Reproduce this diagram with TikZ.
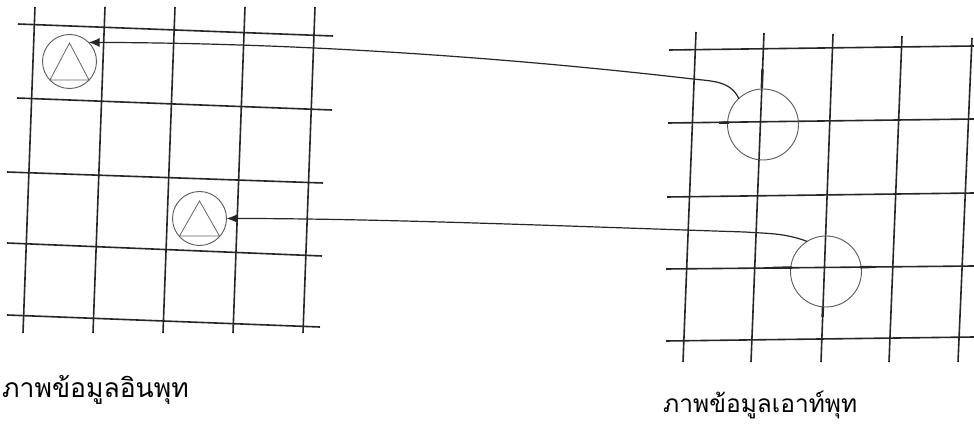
\documentclass[tikz,border=0pt]{standalone}
\usepackage{fontspec}
\newfontfamily\thaifont[Script=Thai]{Loma}
\usetikzlibrary{arrows.meta}
\begin{document}
\begin{tikzpicture}[x=1pt,y=1pt,
  gridline/.style={line width=1.6pt, draw=black!85},
  ring/.style={circle, draw=black!65, line width=0.9pt, inner sep=0pt, outer sep=0pt},
  tri/.style={draw=black!60, line width=0.8pt},
  conn/.style={line width=1.2pt, draw=black!85},
  tipped/.style={conn, -{Latex[length=11pt,width=9pt]}},
  tickmark/.style={line width=2.4pt, draw=black!85},
  thaitext/.style={font=\thaifont, inner sep=0pt, anchor=base west}]
\fill[white] (0,0) rectangle (974,426);
\useasboundingbox (0,0) rectangle (974,426);
% left grid
\foreach \xt/\xb in {35/23,105/93,175/163,245/233,315/303}
  \draw[gridline] (\xt,419) -- (\xb,93);
\foreach \xa/\ya/\xb/\yb in {18/402/333/390, 17/328/332/316, 7/254/323/243, 7/183/322/170, 7/111/320/99}
  \draw[gridline] (\xa,\ya) -- (\xb,\yb);
% right grid
\foreach \xt/\yt/\xb in {696/394/683, 764/393/751, 833/392/821, 902/390/889, 972/388/958}
  \draw[gridline] (\xt,\yt) -- (\xb,64);
\foreach \xa/\ya/\yb in {669/376/380, 668/303/307, 667/229/233, 666/157/160, 666/85/89}
  \draw[gridline] (\xa,\ya) -- (974,\yb);
% circles
\node[ring, minimum size=54pt] (c1) at (69.5,364.5) {};
\node[ring, minimum size=54pt] (c2) at (199.5,207.5) {};
\node[ring, minimum size=71pt] (r1) at (763,301.5) {};
\node[ring, minimum size=71pt] (r2) at (826,154.5) {};
% triangles
\draw[tri] ([shift={(0,18.5)}]c1.center) -- ([shift={(-19.5,-18.5)}]c1.center) -- ([shift={(19.5,-18.5)}]c1.center) -- cycle;
\draw[tri] ([shift={(0,17.5)}]c2.center) -- ([shift={(-20,-17.5)}]c2.center) -- ([shift={(20,-17.5)}]c2.center) -- cycle;
% crosshair ticks
\draw[tickmark] (719,303.2) -- (729,303.4);
\draw[tickmark] (762.5,357) -- (761.8,338);
\draw[tickmark] (773,158.2) -- (792,158.4);
\draw[tickmark] (860,158.8) -- (872,159);
\draw[tickmark] (822.9,119) -- (822.6,109);
% connectors
\coordinate (k1) at (693,347);
\draw[tipped] (r1.133) to[out=115,in=-6.5] (k1) .. controls (494,370) and (290,383) .. (c1.45);
\coordinate (k2) at (745,194);
\draw[tipped] (r2.122) to[out=160,in=-4] (k2) .. controls (560,200) and (380,207.5) .. (c2.east);
% labels
\node[thaitext, font=\thaifont\fontsize{26.5}{30}\selectfont] (inlabel) at (2,29) {ภาพข้อมูลอินพุท};
\node[thaitext, font=\thaifont\fontsize{24.5}{28}\selectfont] (outlabel) at (663,14) {ภาพข้อมูลเอาท์พุท};
\end{tikzpicture}
\end{document}
